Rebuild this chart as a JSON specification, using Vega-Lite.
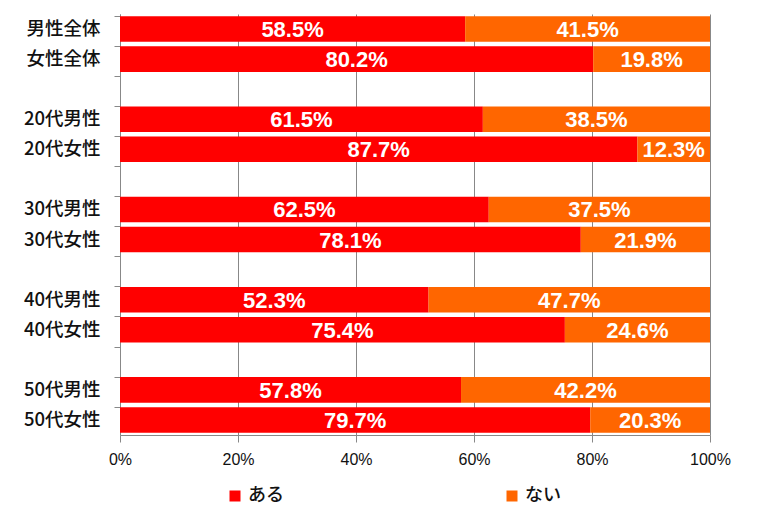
{
  "$schema": "https://vega.github.io/schema/vega-lite/v6.json",
  "width": 590,
  "height": 421,
  "autosize": {"type": "none"},
  "padding": {"left": 120, "top": 14, "right": 56, "bottom": 97},
  "background": "white",
  "config": {"view": {"stroke": null}},
  "data": {
    "values": [
      {"cat": "男性全体", "ans": "ある", "ord": 1, "v": 58.5},
      {"cat": "男性全体", "ans": "ない", "ord": 2, "v": 41.5},
      {"cat": "女性全体", "ans": "ある", "ord": 1, "v": 80.2},
      {"cat": "女性全体", "ans": "ない", "ord": 2, "v": 19.8},
      {"cat": "20代男性", "ans": "ある", "ord": 1, "v": 61.5},
      {"cat": "20代男性", "ans": "ない", "ord": 2, "v": 38.5},
      {"cat": "20代女性", "ans": "ある", "ord": 1, "v": 87.7},
      {"cat": "20代女性", "ans": "ない", "ord": 2, "v": 12.3},
      {"cat": "30代男性", "ans": "ある", "ord": 1, "v": 62.5},
      {"cat": "30代男性", "ans": "ない", "ord": 2, "v": 37.5},
      {"cat": "30代女性", "ans": "ある", "ord": 1, "v": 78.1},
      {"cat": "30代女性", "ans": "ない", "ord": 2, "v": 21.9},
      {"cat": "40代男性", "ans": "ある", "ord": 1, "v": 52.3},
      {"cat": "40代男性", "ans": "ない", "ord": 2, "v": 47.7},
      {"cat": "40代女性", "ans": "ある", "ord": 1, "v": 75.4},
      {"cat": "40代女性", "ans": "ない", "ord": 2, "v": 24.6},
      {"cat": "50代男性", "ans": "ある", "ord": 1, "v": 57.8},
      {"cat": "50代男性", "ans": "ない", "ord": 2, "v": 42.2},
      {"cat": "50代女性", "ans": "ある", "ord": 1, "v": 79.7},
      {"cat": "50代女性", "ans": "ない", "ord": 2, "v": 20.3}
    ]
  },
  "transform": [
    {"stack": "v", "groupby": ["cat"], "offset": "normalize", "sort": [{"field": "ord", "order": "ascending"}], "as": ["v0", "v1"]},
    {"calculate": "(datum.v0 + datum.v1) / 2", "as": "mid"},
    {"calculate": "format(datum.v, '.1f') + '%'", "as": "lab"}
  ],
  "resolve": {"axis": {"y": "independent"}},
  "layer": [
    {
      "mark": {"type": "bar"},
      "encoding": {
        "y": {
          "field": "cat",
          "type": "nominal",
          "scale": {
            "domain": ["男性全体", "女性全体", "s1", "20代男性", "20代女性", "s2", "30代男性", "30代女性", "s3", "40代男性", "40代女性", "s4", "50代男性", "50代女性"],
            "paddingInner": 0.15,
            "paddingOuter": 0.075
          },
          "axis": {
            "orient": "left",
            "title": null,
            "labelExpr": "indexof(datum.value, 's') == 0 ? '' : datum.value",
            "domainColor": "#888888",
            "ticks": false,
            "labelPadding": 20,
            "labelFont": "Noto Sans CJK JP",
            "labelFontSize": 18.5,
            "labelFontWeight": 500,
            "labelColor": "#111111",
            "grid": false
          }
        },
        "x": {
          "field": "v0",
          "type": "quantitative",
          "scale": {"domain": [0, 1], "nice": false},
          "axis": {
            "title": null,
            "format": ".0%",
            "values": [0, 0.2, 0.4, 0.6, 0.8, 1],
            "grid": true,
            "gridColor": "#888888",
            "gridWidth": 1,
            "domainColor": "#888888",
            "tickColor": "#888888",
            "tickSize": 7,
            "labelPadding": 9,
            "labelFont": "Liberation Sans",
            "labelFontSize": 16,
            "labelColor": "#111111",
            "labelFlush": false
          }
        },
        "x2": {"field": "v1"},
        "color": {
          "field": "ans",
          "type": "nominal",
          "scale": {"domain": ["ある", "ない"], "range": ["#FF0000", "#FF6600"]},
          "legend": {
            "title": null,
            "orient": "none",
            "legendX": 106,
            "legendY": 473,
            "direction": "horizontal",
            "columns": 2,
            "columnPadding": 219,
            "symbolType": "square",
            "symbolSize": 121,
            "symbolStrokeWidth": 0,
            "labelFont": "Noto Sans CJK JP",
            "labelFontSize": 18,
            "labelFontWeight": 500,
            "labelColor": "#111111",
            "labelOffset": 4
          }
        }
      }
    },
    {
      "mark": {"type": "text", "font": "Liberation Sans", "fontWeight": "bold", "fontSize": 22, "color": "white", "baseline": "middle", "align": "center", "dy": 1},
      "encoding": {
        "y": {
          "field": "cat",
          "type": "nominal",
          "axis": {
            "orient": "left",
            "title": null,
            "labels": true,
            "labelColor": "rgba(0,0,0,0)",
            "labelFontSize": 1,
            "domain": false,
            "grid": false,
            "ticks": true,
            "tickColor": "#888888",
            "tickWidth": 1,
            "tickSize": 6,
            "offset": 0,
            "bandPosition": 0
          }
        },
        "x": {"field": "mid", "type": "quantitative"},
        "text": {"field": "lab"}
      }
    }
  ]
}
